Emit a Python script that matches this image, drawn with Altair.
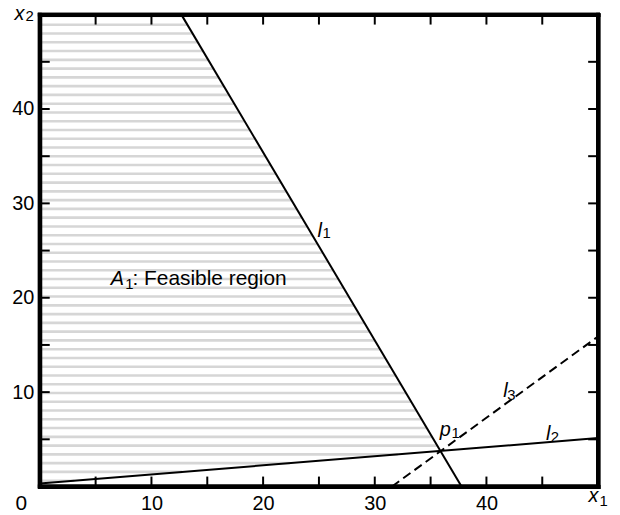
import altair as alt
import pandas as pd
import numpy as np

# ---- data ----
# constraint lines (endpoints in data coords)
l1_x = [12.68, 37.77]
l1_y = [50.0, 0.0]
l2_x = [0.0, 50.0]
l2_y = [0.32, 5.13]
l3_x = [31.54, 50.0]
l3_y = [0.0, 15.9]

axis_vals = [10, 20, 30, 40]
minor_ticks = [5, 10, 15, 20, 25, 30, 35, 40, 45]

# annotation pieces
ital_text = ["x", "x", "l", "l", "l", "p", "A"]
ital_x = [-2.27, 49.15, 24.87, 41.5, 45.33, 35.81, 6.36]
ital_y = [49.4, -1.68, 26.42, 9.47, 4.95, 5.37, 21.37]
sub_text = ["2", "1", "1", "3", "2", "1", "1"]
sub_x = [-1.29, 50.13, 25.31, 41.86, 45.77, 36.88, 7.66]
sub_y = [49.35, -2.1, 26.3, 9.16, 4.74, 5.16, 20.95]
norm_text = [": Feasible region", "0"]
norm_x = [8.3, -2.18]
norm_y = [21.37, -2.53]

W, H = 562, 475
XMAX, YMAX = 50, 50
FONT = "Liberation Sans"
xs = alt.Scale(domain=[0, XMAX], nice=False, zero=False)
ys = alt.Scale(domain=[0, YMAX], nice=False, zero=False)

# ---- frame as four filled bars (thickness in px, converted to data units) ----
FR = 4.0
hx = FR / 2 * XMAX / W
hy = FR / 2 * YMAX / H
frame_df = pd.DataFrame({
    "x":  [-hx, -hx, -hx, XMAX - hx],
    "x2": [XMAX + hx, XMAX + hx, hx, XMAX + hx],
    "y":  [-hy, YMAX - hy, -hy, -hy],
    "y2": [hy, YMAX + hy, YMAX + hy, YMAX + hy],
})

dom = dict(domain=True, domainWidth=4, domainColor="black", domainCap="square",
           grid=False, zindex=1, title=None)

# ---- hatching (style) inside the feasible region ----
m1 = (l1_x[1] - l1_x[0]) / (l1_y[1] - l1_y[0])
m2 = (l2_y[1] - l2_y[0]) / (l2_x[1] - l2_x[0])
stripe_y = 44.28 - 0.929 * np.arange(-6, 48)
rows = []
for yv in stripe_y:
    if yv <= l2_y[0] or yv >= 49.9:
        continue
    xe1 = l1_x[0] + (yv - l1_y[0]) * m1
    xe2 = (yv - l2_y[0]) / m2
    rows.append({"y": float(yv), "x0": 0.0, "x1": float(min(xe1, xe2, 50))})
stripes = pd.DataFrame(rows)

hatch = alt.Chart(stripes).mark_rule(color="#d6d6d6", strokeWidth=2.6).encode(
    x=alt.X("x0:Q", scale=xs, axis=alt.Axis(values=axis_vals, ticks=False, labelFontSize=20,
                                             labelFont=FONT, labelColor="black", labelPadding=7,
                                             orient="bottom", **dom)),
    x2="x1:Q",
    y=alt.Y("y:Q", scale=ys, axis=alt.Axis(values=axis_vals, ticks=False, labelFontSize=20,
                                            labelFont=FONT, labelColor="black", labelPadding=6,
                                            orient="left", **dom)),
)

# top / right frame edges as axis domains
dummy = alt.Chart(pd.DataFrame({"x": [0.0], "y": [0.0]})).mark_point(opacity=0).encode(
    x=alt.X("x:Q", scale=xs, axis=alt.Axis(orient="top", labels=False, ticks=False, **dom)),
    y=alt.Y("y:Q", scale=ys, axis=alt.Axis(orient="right", labels=False, ticks=False, **dom)),
)

def line(xv, yv, dash=None):
    df = pd.DataFrame({"x": xv, "y": yv})
    kw = dict(color="black", strokeWidth=2, clip=True)
    if dash:
        kw["strokeDash"] = dash
    return alt.Chart(df).mark_line(**kw).encode(
        x=alt.X("x:Q", scale=xs, axis=None), y=alt.Y("y:Q", scale=ys, axis=None))

L1 = line(l1_x, l1_y)
L2 = line(l2_x, l2_y)
L3 = line(l3_x, l3_y, dash=[9, 5])

tdf = pd.DataFrame({"v": minor_ticks})
tk = dict(color="black", strokeWidth=2)
tick_b = alt.Chart(tdf).mark_rule(**tk).encode(x=alt.X("v:Q", scale=xs, axis=None), y=alt.value(H), y2=alt.value(H - 10))
tick_t = alt.Chart(tdf).mark_rule(**tk).encode(x=alt.X("v:Q", scale=xs, axis=None), y=alt.value(0), y2=alt.value(10))
tick_l = alt.Chart(tdf).mark_rule(**tk).encode(y=alt.Y("v:Q", scale=ys, axis=None), x=alt.value(0), x2=alt.value(10))
tick_r = alt.Chart(tdf).mark_rule(**tk).encode(y=alt.Y("v:Q", scale=ys, axis=None), x=alt.value(W), x2=alt.value(W - 10))

frame = alt.Chart(frame_df).mark_rect(color="#000000", opacity=1).encode(
    x=alt.X("x:Q", scale=xs, axis=None), x2="x2:Q",
    y=alt.Y("y:Q", scale=ys, axis=None), y2="y2:Q")

def texts(t, xv, yv, size, style):
    df = pd.DataFrame({"t": t, "x": xv, "y": yv})
    return alt.Chart(df).mark_text(align="left", baseline="alphabetic", font=FONT,
                                   fontSize=size, fontStyle=style, color="black").encode(
        x=alt.X("x:Q", scale=xs, axis=None), y=alt.Y("y:Q", scale=ys, axis=None), text="t:N")

T1 = texts(ital_text, ital_x, ital_y, 20, "italic")
T2 = texts(sub_text, sub_x, sub_y, 15, "normal")
T3 = texts(norm_text, norm_x, norm_y, 21, "normal")

chart = alt.layer(hatch, dummy, L1, L2, L3, tick_b, tick_t, tick_l, tick_r, frame, T1, T2, T3).resolve_axis(
    x="independent", y="independent"
).properties(
    width=W, height=H,
    autosize=alt.AutoSizeParams(type="none"),
    padding={"left": 32, "top": 5, "right": 14, "bottom": 26},
).configure(
    background="white",
    view=alt.ViewConfig(stroke="#000000", strokeWidth=4),
)

chart.save("out.html", embed_options={"renderer": "svg", "actions": False})
